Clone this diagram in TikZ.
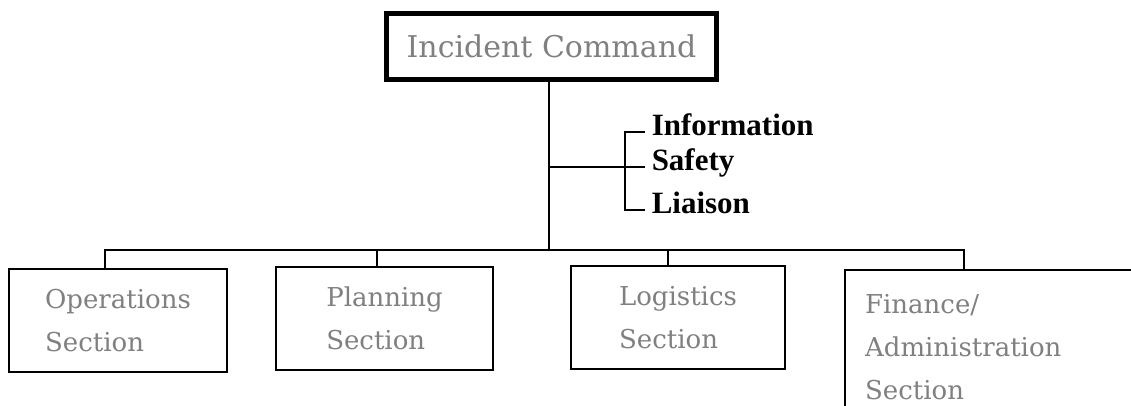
\documentclass[tikz,border=0pt]{standalone}
\usepackage{fontspec}
\setmainfont{Liberation Serif}
\newfontfamily\dotfont{DejaVu Serif}
\begin{document}
\begin{tikzpicture}[x=1pt,y=-1pt,line width=1.5pt,
  cmdbox/.style={draw=black,line width=4.5pt,minimum width=330pt,minimum height=66pt,inner sep=0pt,
    text=black!50,font=\dotfont\fontsize{30}{36}\selectfont},
  secbox/.style={draw=black,line width=2.2pt,align=left,inner sep=0pt,minimum height=103pt,
    text=black!50,font=\dotfont\fontsize{26}{43}\selectfont},
  staff/.style={anchor=west,inner xsep=6pt,inner ysep=1pt,text height=0.68em,text depth=0pt,
    font=\bfseries\fontsize{31}{36}\selectfont}]
\useasboundingbox (0,0) rectangle (1131,406);
\node[cmdbox] (ic) at (551.5,46.5) {Incident Command};
\coordinate (trunk) at (549,250);
\draw (ic.south -| trunk) -- (trunk);
\node[staff] (info) at (645,132) {Information};
\node[staff] (safety) at (645,167) {Safety};
\node[staff] (liaison) at (645,210) {Liaison};
\coordinate (brace) at (625,167);
\draw (trunk |- safety) -- (safety.west);
\draw (info.west) -| (brace) |- (liaison.west);
\node[secbox,minimum width=218pt] (ops) at (118,320.5) {Operations\\Section};
\node[secbox,minimum width=217pt] (plan) at (384.5,318.5) {Planning\\Section};
\node[secbox,minimum width=214pt] (logi) at (678,317.5) {Logistics\\Section};
\node[secbox,anchor=north west,text width=260pt,inner xsep=20pt,minimum height=155pt] (fin) at (844,269) {Finance/\\Administration\\Section};
\coordinate (opsdrop) at (105,250);
\coordinate (plandrop) at (377,250);
\coordinate (logidrop) at (668,250);
\coordinate (findrop) at (964,250);
\draw (opsdrop |- ops.north) -- (opsdrop) -- (findrop) -- (findrop |- fin.north);
\draw (plandrop) -- (plandrop |- plan.north);
\draw (logidrop) -- (logidrop |- logi.north);
\end{tikzpicture}
\end{document}
